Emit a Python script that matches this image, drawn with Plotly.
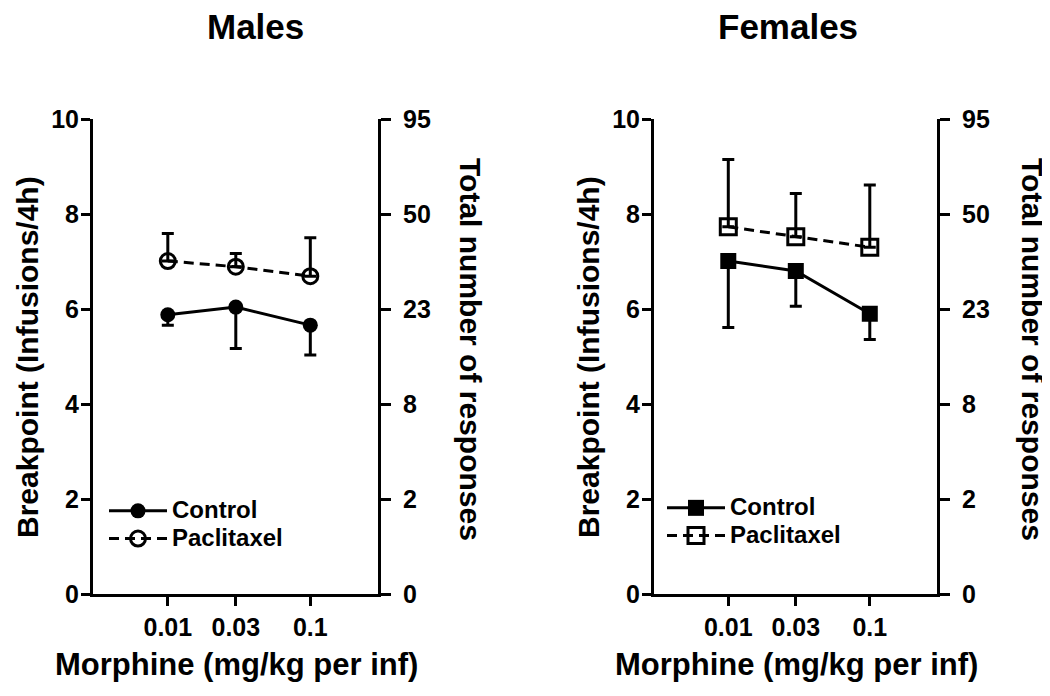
import plotly.graph_objects as go

doses = [0.01, 0.03, 0.1]
dose_labels = ["0.01", "0.03", "0.1"]
left_ticks = [0, 2, 4, 6, 8, 10]
right_tick_labels = ["0", "2", "8", "23", "50", "95"]
series_names = ["Control", "Paclitaxel"]

male_control = [5.88, 6.04, 5.66]
male_control_err = [0.22, 0.87, 0.63]
male_pac = [7.01, 6.89, 6.69]
male_pac_err = [0.58, 0.28, 0.81]

female_control = [7.01, 6.80, 5.90]
female_control_err = [1.40, 0.74, 0.54]
female_pac = [7.73, 7.52, 7.30]
female_pac_err = [1.42, 0.91, 1.31]

zeros = [0, 0, 0]
FONT = "Liberation Sans, Arial, sans-serif"
W, H = 1050, 696
OFF = 8  # page body margin


def px(x):
    return (x - OFF) / W


def py(y):
    return 1 - (y - OFF) / H


def legname(s):
    return '<span style="font-size:24px">' + s + "</span>"


fig = go.Figure()


def add_panel(xa, ya, ctrl, ctrl_err, pac, pac_err, sym, size, legend):
    fig.add_trace(go.Scatter(
        x=doses, y=ctrl, name=legname(series_names[0]), mode="lines+markers",
        xaxis=xa, yaxis=ya, legend=legend,
        line=dict(color="black", width=3),
        marker=dict(symbol=sym, size=size, color="black"),
        error_y=dict(type="data", symmetric=False, array=zeros,
                     arrayminus=ctrl_err, color="black", thickness=3, width=6),
    ))
    fig.add_trace(go.Scatter(
        x=doses, y=pac, name=legname(series_names[1]), mode="lines+markers",
        xaxis=xa, yaxis=ya, legend=legend,
        line=dict(color="black", width=3, dash="10px,6px"),
        marker=dict(symbol=sym + "-open", size=size,
                    line=dict(color="black", width=3), color="black"),
        error_y=dict(type="data", symmetric=False, array=pac_err,
                     arrayminus=zeros, color="black", thickness=3, width=6),
    ))


add_panel("x", "y", male_control, male_control_err, male_pac, male_pac_err,
          "circle", 15, "legend")
add_panel("x2", "y2", female_control, female_control_err, female_pac,
          female_pac_err, "square", 16, "legend2")

# register the secondary (right) axes
fig.add_trace(go.Scatter(x=doses, y=[None] * 3, xaxis="x", yaxis="y3",
                         showlegend=False, hoverinfo="skip"))
fig.add_trace(go.Scatter(x=doses, y=[None] * 3, xaxis="x2", yaxis="y4",
                         showlegend=False, hoverinfo="skip"))

tickfont = dict(family=FONT, size=25, color="black", weight="bold")
ydom = [py(594), py(119)]

xcommon = dict(type="log", range=[-2.525, -0.525], tickvals=doses,
               ticktext=dose_labels, showline=True, linecolor="black",
               linewidth=3, ticks="outside", ticklen=9, tickwidth=3,
               tickcolor="black", showgrid=False, zeroline=False,
               tickfont=tickfont, ticklabelstandoff=0, automargin=False)
ycommon = dict(range=[0, 10], tickvals=left_ticks, showline=True,
               linecolor="black", linewidth=3, ticks="outside", ticklen=9,
               tickwidth=3, tickcolor="black", showgrid=False, zeroline=False,
               tickfont=tickfont, ticklabelstandoff=-3, automargin=False)
yright = dict(range=[0, 10], tickvals=left_ticks, ticktext=right_tick_labels,
              showline=True, linecolor="black", linewidth=3, ticks="outside",
              ticklen=10, tickwidth=3, tickcolor="black", showgrid=False,
              zeroline=False, tickfont=tickfont, side="right",
              ticklabelstandoff=7, automargin=False)

legfont = dict(family=FONT, size=19, color="black", weight="bold")

fig.update_layout(
    template="none",
    width=W, height=H,
    margin=dict(l=0, r=0, t=0, b=0, pad=0, autoexpand=False),
    paper_bgcolor="white", plot_bgcolor="white",
    font=dict(family=FONT, color="black"),
    showlegend=True,
    xaxis=dict(domain=[px(93), px(378)], anchor="y", **xcommon),
    xaxis2=dict(domain=[px(654), px(937)], anchor="y2", **xcommon),
    yaxis=dict(domain=ydom, anchor="x", **ycommon),
    yaxis2=dict(domain=ydom, anchor="x2", **ycommon),
    yaxis3=dict(overlaying="y", anchor="x", **yright),
    yaxis4=dict(overlaying="y2", anchor="x2", **yright),
    legend=dict(x=px(104), y=py(525), xanchor="left", yanchor="middle",
                bgcolor="rgba(0,0,0,0)", font=legfont, itemwidth=58,
                tracegroupgap=0),
    legend2=dict(x=px(662), y=py(522), xanchor="left", yanchor="middle",
                 bgcolor="rgba(0,0,0,0)", font=legfont, itemwidth=58,
                 tracegroupgap=0),
)


def ann(text, x, y, size, angle=0):
    fig.add_annotation(text="<b>" + text + "</b>", x=px(x), y=py(y),
                       xref="paper", yref="paper", showarrow=False,
                       xanchor="center", yanchor="middle", textangle=angle,
                       font=dict(family=FONT, size=size, color="black"))


ann("Males", 255, 27, 35)
ann("Females", 788, 27, 35)
ann("Breakpoint (Infusions/4h)", 28, 357, 30, -90)
ann("Breakpoint (Infusions/4h)", 589, 357, 30, -90)
ann("Total number of responses", 471, 349, 30, 90)
ann("Total number of responses", 1033, 349, 30, 90)
ann("Morphine (mg/kg per inf)", 236, 664, 31)
ann("Morphine (mg/kg per inf)", 796, 664, 31)

fig.write_html("out.html")
